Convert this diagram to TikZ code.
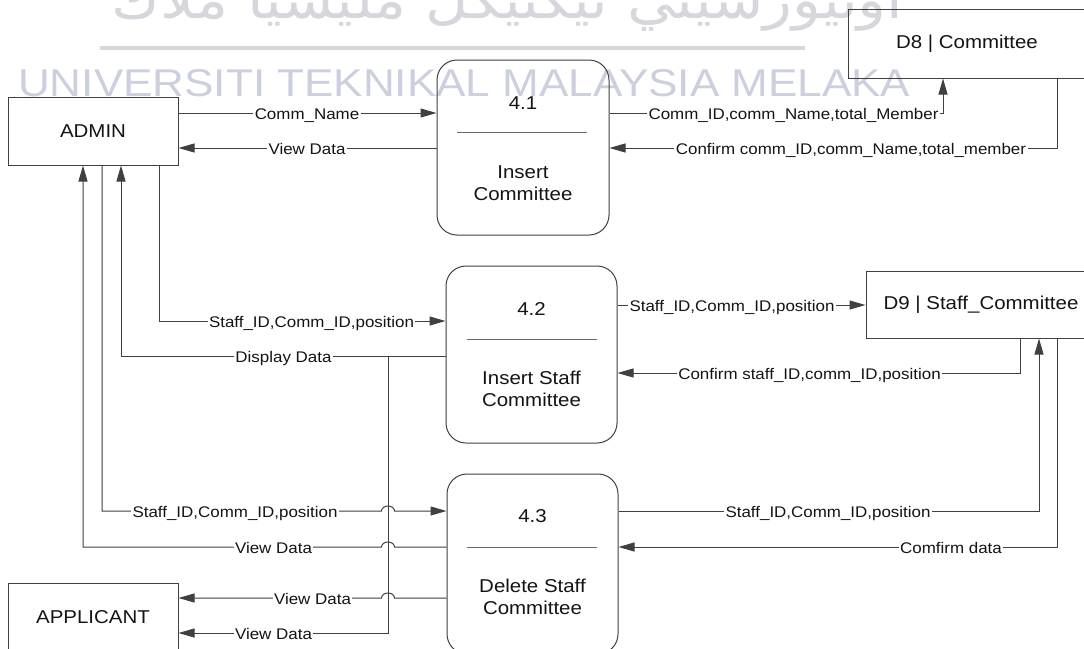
\documentclass[tikz,border=0pt]{standalone}
\usepackage{fontspec}
\setmainfont{Liberation Sans}[FakeStretch=1.1]
\newfontfamily\wmfont{Liberation Sans}
\newfontfamily\jawifont[Script=Arabic]{DejaVu Sans}
\TeXXeTstate=1
\usetikzlibrary{arrows.meta}
\definecolor{linec}{RGB}{64,64,64}
\definecolor{wmc}{RGB}{204,208,222}
\definecolor{jawic}{RGB}{214,214,220}
\definecolor{bandc}{RGB}{214,214,220}
\definecolor{sepc}{RGB}{105,105,105}
\definecolor{txtc}{RGB}{20,20,20}
\begin{document}
\begin{tikzpicture}[x=1pt,y=-1pt,
  flow/.style={draw=linec, line width=1pt, -{Triangle[length=16pt,width=9pt]}},
  ent/.style={draw=linec, line width=1pt, text=txtc, inner sep=0pt,
    font=\fontsize{18.6}{22.3}\selectfont},
  proc/.style={draw=linec, line width=1pt, rounded corners=20pt, inner sep=0pt},
  ptext/.style={text=txtc, align=center, inner sep=0pt,
    font=\fontsize{18.6}{22.3}\selectfont},
  lbl/.style={fill=white, text=txtc, inner xsep=1.5pt, inner ysep=1pt,
    text height=13pt, text depth=0pt, font=\fontsize{15.4}{18}\selectfont}]

\useasboundingbox (0,0) rectangle (1084,648);
\clip (0,0) rectangle (1084,648);
\fill[white] (0,0) rectangle (1084,648);

% university watermark
\node[anchor=base west, inner sep=0pt, text=jawic] (wmjawi) at (111,18)
  {\resizebox{792pt}{40pt}{\jawifont\beginR اونيورسيتي تيكنيكل مليسيا ملاك\endR}};
\fill[bandc] (100,46) rectangle (805,50);
\node[anchor=base west, inner sep=0pt, text=wmc] (wmlatin) at (18,96)
  {\resizebox{892pt}{27pt}{\wmfont UNIVERSITI TEKNIKAL MALAYSIA MELAKA}};

% external entities and data stores
\node[ent, minimum width=170pt, minimum height=68pt] (admin) at (93,131) {ADMIN};
\node[ent, minimum width=170pt, minimum height=68pt] (applicant) at (93,617) {APPLICANT};
\node[ent, minimum width=238pt, minimum height=69pt] (d8) at (967,43.5) {D8 | Committee};
\node[ent, minimum width=230pt, minimum height=67pt] (d9) at (981,304.5) {D9 | Staff\_Committee};

% processes
\node[proc, minimum width=172pt, minimum height=175pt] (p41) at (523,147.5) {};
\node[proc, minimum width=171pt, minimum height=177pt] (p42) at (531.5,354.5) {};
\node[proc, minimum width=171pt, minimum height=180pt] (p43) at (532.5,564) {};

\node[ptext] (n41) at (523,103) {4.1};
\draw[sepc, line width=1pt] (457,132) -- (587,132);
\node[ptext] (t41) at (523,183) {Insert\\Committee};

\node[ptext] (n42) at (531.5,309) {4.2};
\draw[sepc, line width=1pt] (467,339) -- (597,339);
\node[ptext] (t42) at (531.5,389) {Insert Staff\\Committee};

\node[ptext] (n43) at (532.5,516) {4.3};
\draw[sepc, line width=1pt] (467,547) -- (597,547);
\node[ptext] (t43) at (532.5,597) {Delete Staff\\Committee};

% flows around 4.1
\draw[flow] (admin.east |- 0,113) -- (p41.west |- 0,113);
\node[lbl] (l1) at (307,113) {Comm\_Name};
\draw[flow] (p41.west |- 0,148) -- (admin.east |- 0,148);
\node[lbl] (l2) at (307,148) {View Data};
\draw[flow] (p41.east |- 0,113) -| (d8.south -| 943,0);
\node[lbl] (l3) at (793.5,113) {Comm\_ID,comm\_Name,total\_Member};
\draw[flow] (d8.south -| 1057,0) |- (p41.east |- 0,148);
\node[lbl] (l4) at (851,148) {Confirm comm\_ID,comm\_Name,total\_member};

% flows around 4.2
\draw[flow] (admin.south -| 159,0) |- (p42.west |- 0,321);
\node[lbl] (l5) at (311.5,321) {Staff\_ID,Comm\_ID,position};
\draw[flow] (p42.west |- 0,356) -| (admin.south -| 121,0);
\node[lbl] (l6) at (283.5,356) {Display Data};
\coordinate (split) at (388,356);
\draw[flow] (split) |- (applicant.east |- 0,633);
\node[lbl] (l7) at (273.5,633) {View Data};
\draw[flow] (p42.east |- 0,305) -- (d9.west |- 0,305);
\node[lbl] (l11) at (732,305) {Staff\_ID,Comm\_ID,position};
\draw[flow] (d9.south -| 1020,0) |- (p42.east |- 0,373);
\node[lbl] (l12) at (809.5,373) {Confirm staff\_ID,comm\_ID,position};

% flows around 4.3 (hops over the branch line)
\draw[flow] (admin.south -| 102,0) |- (381.5,511)
  arc[start angle=180, end angle=0, x radius=6.5pt, y radius=5pt]
  -- (p43.west |- 0,511);
\node[lbl] (l8) at (235,511) {Staff\_ID,Comm\_ID,position};
\draw[flow] (p43.west |- 0,547) -- (394.5,547)
  arc[start angle=0, end angle=180, x radius=6.5pt, y radius=5pt]
  -| (admin.south -| 83,0);
\node[lbl] (l9) at (273.5,547) {View Data};
\draw[flow] (p43.west |- 0,598) -- (394.5,598)
  arc[start angle=0, end angle=180, x radius=6.5pt, y radius=5pt]
  -- (applicant.east |- 0,598);
\node[lbl] (l10) at (312.5,598) {View Data};
\draw[flow] (p43.east |- 0,511) -| (d9.south -| 1039,0);
\node[lbl] (l13) at (828,511) {Staff\_ID,Comm\_ID,position};
\draw[flow] (d9.south -| 1057,0) |- (p43.east |- 0,547);
\node[lbl] (l14) at (951,547) {Comfirm data};
\end{tikzpicture}
\end{document}
